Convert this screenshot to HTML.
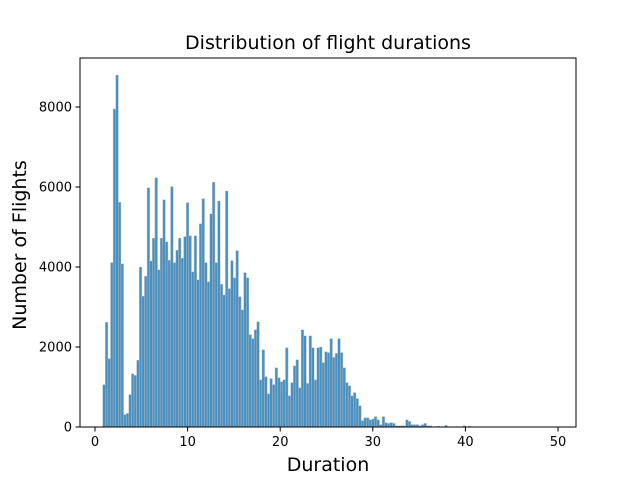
<!DOCTYPE html>
<html><head><meta charset="utf-8"><style>
body{margin:0;background:#fff;font-family:"DejaVu Sans","Liberation Sans",sans-serif;}
</style></head><body>
<svg id="chart" width="640" height="480" xmlns="http://www.w3.org/2000/svg" font-family="DejaVu Sans, Liberation Sans, sans-serif">
<rect width="640" height="480" fill="#fff"/>
<text x="328" y="49" font-size="19" text-anchor="middle">Distribution of flight durations</text>
<text x="328" y="471" font-size="19" text-anchor="middle">Duration</text>
<text x="0" y="0" font-size="19" text-anchor="middle" transform="translate(26,245) rotate(-90)">Number of Flights</text>
<g id="bars"></g>
<g id="xt"></g>
<g id="yt"></g>
<rect x="80" y="58" width="496" height="369" fill="none" stroke="#000" stroke-width="1"/>
</svg>
<script>
const binStart = 0.83;
const binWidth = 0.282;
const counts = [1060,2620,1710,4110,7950,8800,5620,4080,310,340,810,1330,1290,1670,4000,3270,3770,5980,4150,4720,6230,3930,4720,5680,4630,4170,6010,4110,4420,4720,4220,4760,5610,4780,3880,4780,3680,5080,5710,4110,3630,5330,6120,4110,
5650,3570,3300,5900,3460,4160,3730,4410,3260,2930,3860,3730,2310,2210,2430,2630,1180,1930,1260,830,1210,1060,1480,1230,1130,1180,1980,780,1110,1530,1680,980,2430,2280,1090,2280,1980,1180,1980,2000,1610,1880,1860,2210,1740,1840,2210,1860,1480,1110,
1030,780,860,710,530,160,230,230,180,200,260,180,60,260,110,90,110,90,30,30,30,30,180,140,60,60,60,30,60,90,30,30,
0,0,20,0,0,40,0,0,0,10,0,0,30,0,20,0,0,0,0,0,0,0,5,0,0,0,0,0,0,0,0,0,0,0,0,0,0,0,0,0,0,0,0,0,0,5];
const xTicks = [0,10,20,30,40,50];
const yTicks = [0,2000,4000,6000,8000];
const xs = v => 95 + v*9.26;
const ys = v => 427 - v*0.04;
const NS = "http://www.w3.org/2000/svg";
const bars = document.getElementById('bars');
counts.forEach((c,i)=>{
  if(c<=0) return;
  const x0 = xs(binStart + i*binWidth), x1 = xs(binStart + (i+1)*binWidth);
  const r = document.createElementNS(NS,'rect');
  r.setAttribute('x', x0); r.setAttribute('width', x1-x0);
  r.setAttribute('y', ys(c)); r.setAttribute('height', ys(0)-ys(c));
  r.setAttribute('fill','rgba(31,119,180,0.82)');
  r.setAttribute('stroke','rgba(190,190,190,0.9)');
  r.setAttribute('stroke-width','0.5');
  
  
  bars.appendChild(r);
});
const xt = document.getElementById('xt');
xTicks.forEach(t=>{
  const l = document.createElementNS(NS,'line');
  l.setAttribute('x1',xs(t)); l.setAttribute('x2',xs(t)); l.setAttribute('y1',427); l.setAttribute('y2',431.5);
  l.setAttribute('stroke','#000');
  
  
  xt.appendChild(l);
  const tx = document.createElementNS(NS,'text');
  tx.setAttribute('x',xs(t)); tx.setAttribute('y',446); tx.setAttribute('font-size','13'); tx.setAttribute('text-anchor','middle');
  tx.textContent = t;
  
  
  xt.appendChild(tx);
});
const yt = document.getElementById('yt');
yTicks.forEach(t=>{
  const l = document.createElementNS(NS,'line');
  l.setAttribute('x1',75.5); l.setAttribute('x2',80); l.setAttribute('y1',ys(t)); l.setAttribute('y2',ys(t));
  l.setAttribute('stroke','#000');
  
  
  yt.appendChild(l);
  const tx = document.createElementNS(NS,'text');
  tx.setAttribute('x',72); tx.setAttribute('y',ys(t)+4.5); tx.setAttribute('font-size','13'); tx.setAttribute('text-anchor','end');
  tx.textContent = t;
  
  
  yt.appendChild(tx);
});
</script>
</body></html>
